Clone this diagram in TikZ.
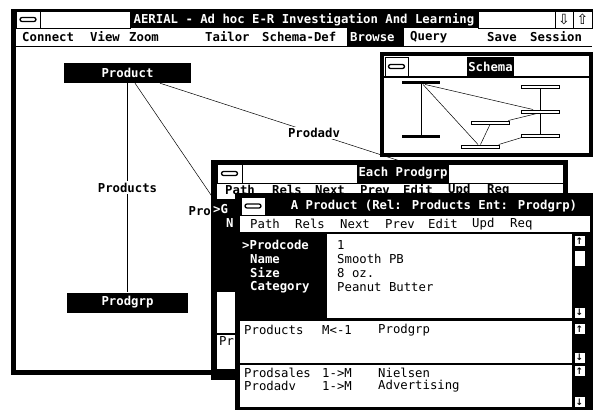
\documentclass[tikz,border=0pt]{standalone}
\usepackage{fontspec}
\setmainfont{DejaVu Sans Mono}
\newfontfamily\symfont{DejaVu Sans}
\begin{document}
\begin{tikzpicture}[
    x=1pt,y=-1pt,
    font=\fontsize{12.3}{13}\selectfont,
    ent/.style={fill=black,text=white,font=\fontsize{12.3}{13}\selectfont\bfseries,inner sep=0,minimum height=20},
    lbl/.style={fill=white,inner sep=1.5pt,font=\fontsize{12.3}{13}\selectfont\bfseries},
    mnu/.style={anchor=west,inner sep=0,font=\fontsize{12.3}{13}\selectfont\bfseries},
    ttl/.style={text=white,inner sep=0,font=\fontsize{12.3}{13}\selectfont\bfseries},
    fld/.style={anchor=west,text=white,inner sep=0,font=\fontsize{12.3}{13}\selectfont\bfseries},
    val/.style={anchor=west,inner sep=0},
    knob/.style={draw=black,line width=1.3pt,fill=white,rounded corners=2pt,minimum width=16,minimum height=4,inner sep=0},
    mini/.style={draw=black,fill=white,line width=0.5pt,inner sep=0,minimum width=38,minimum height=3.5},
    minib/.style={fill=black,inner sep=0,minimum width=38,minimum height=3.5},
    arr/.style={draw=black,fill=white,inner sep=0,minimum width=11,minimum height=11,font=\symfont\fontsize{9}{9}\selectfont\bfseries},
    rel/.style={line width=0.5pt}
  ]
  \useasboundingbox[fill=white] (0,0) rectangle (595,410);

  % main window
  \fill (11,9) rectangle (593,11);
  \fill (11,9) rectangle (16,375);
  \fill (11,370) rectangle (240,375);
  \draw[fill=white] (16,11) rectangle (40,28);
  \node[knob] (mainknob) at (28,19.5) {};
  \draw (40,11) rectangle (130,28);
  \fill (130,11) rectangle (478,28);
  \node[ttl] (maintitle) at (304,19.5) {AERIAL - Ad hoc E-R Investigation And Learning};
  \draw (478,11) rectangle (555,28);
  \draw (555,11) rectangle (573,28);
  \draw (573,11) rectangle (592,28);
  \node[inner sep=0,font=\symfont\fontsize{14}{14}\selectfont] (down) at (564,19.5) {⇩};
  \node[inner sep=0,font=\symfont\fontsize{14}{14}\selectfont] (up) at (582.5,19.5) {⇧};
  \draw (16,46) -- (592,46);
  \fill (347,28) rectangle (404,46);
  \node[mnu] (connect) at (22,37) {Connect};
  \node[mnu] (view) at (90,37) {View};
  \node[mnu] (zoom) at (129,37) {Zoom};
  \node[mnu] (tailor) at (205,37) {Tailor};
  \node[mnu] (schemadef) at (262,37) {Schema-Def};
  \node[mnu,text=white] (browse) at (350,37) {Browse};
  \node[mnu] (query) at (410,37) {Query};
  \node[mnu] (save) at (487,37) {Save};
  \node[mnu] (session) at (530,37) {Session};

  % entities
  \node[ent,minimum width=127] (product) at (127.5,73) {Product};
  \node[ent,minimum width=121] (prodgrp) at (127.5,302.5) {Prodgrp};
  \coordinate (nielsen) at (309,339);
  \coordinate (advert) at (468,183);

  % relationships
  \draw[rel] (product.south) -- (prodgrp.north) node[lbl,midway] (products) {Products};
  \draw[rel] ([xshift=7.5]product.south) -- (nielsen) node[lbl,midway] (prodsales) {Prodsales};
  \draw[rel] ([xshift=32.5]product.south) -- (advert) node[lbl,midway] (prodadv) {Prodadv};

  % schema window
  \fill (380,52) rectangle (593,157);
  \fill[white] (384,56) rectangle (589,153);
  \draw[fill=white] (385,57) rectangle (408,76);
  \node[knob] (schemaknob) at (396.5,66.5) {};
  \fill (467,57) rectangle (514,76);
  \node[ttl] (schematitle) at (490.5,66.5) {Schema};
  \fill (384,76) rectangle (589,78);
  \node[minib] (sa) at (421,82.5) {};
  \node[minib] (sb) at (421,136.5) {};
  \node[mini] (sc) at (540,86.5) {};
  \node[mini] (sd) at (540,111.5) {};
  \node[mini] (se) at (490,122.5) {};
  \node[mini] (sf) at (540,135.5) {};
  \node[mini] (sg) at (480.5,146.5) {};
  \draw[rel] (sa) -- (sb);
  \draw[rel] (sc) -- (sd);
  \draw[rel] (sd) -- (sf);
  \draw[rel] ([xshift=4]sa.south) -- ([xshift=-7]sd.north);
  \draw[rel] ([xshift=2]sa.south) -- ([xshift=-2.5]sg.north);
  \draw[rel] ([xshift=-1]se.north east) -- ([xshift=-3]sd.south);
  \draw[rel] (sg.north) -- (se.south);
  \draw[rel] ([xshift=-1]sg.north east) -- ([xshift=1]sf.south west);

  % each prodgrp window
  \fill (211,160) rectangle (568,380);
  \draw[fill=white] (217,164) rectangle (242,183);
  \node[knob] (eachknob) at (229.5,173.5) {};
  \draw[fill=white] (242,164) rectangle (563,183);
  \fill (357,164) rectangle (449,183);
  \node[ttl] (eachtitle) at (403,173.5) {Each Prodgrp};
  \fill[white] (217,184) rectangle (563,199);
  \node[mnu] (epath) at (225,190) {Path};
  \node[mnu] (erels) at (272,190) {Rels};
  \node[mnu] (enext) at (315,190) {Next};
  \node[mnu] (eprev) at (360,190) {Prev};
  \node[mnu] (eedit) at (403,190) {Edit};
  \node[mnu] (eupd) at (448,190) {Upd};
  \node[mnu] (ereq) at (487,190) {Req};
  \node[fld] (egrp) at (213,209) {>G};
  \node[fld] (ename) at (226,223) {N};
  \fill[white] (217,292) rectangle (235,333);
  \fill[white] (217,335) rectangle (235,369);
  \node[val] (epr) at (219,341) {Pr};

  % a product window
  \fill (235,193) rectangle (593,410);
  \draw[fill=white] (241,197) rectangle (265,215);
  \node[knob] (prodknob) at (253,206) {};
  \node[ttl] (prodtitle) at (434,206) {A Product (Rel: Products Ent: Prodgrp)};
  \fill[white] (240,216) rectangle (590,232);
  \node[val] (path) at (250,224) {Path};
  \node[val] (rels) at (295,224) {Rels};
  \node[val] (next) at (340,224) {Next};
  \node[val] (prev) at (385,224) {Prev};
  \node[val] (edit) at (428,224) {Edit};
  \node[val] (upd) at (472,224) {Upd};
  \node[val] (req) at (510,224) {Req};
  % fields
  \fill[white] (327,234) rectangle (572,318);
  \node[fld] (fcode) at (242,245) {>Prodcode};
  \node[fld] (fname) at (250,259) {Name};
  \node[fld] (fsize) at (250,273) {Size};
  \node[fld] (fcat) at (250,287) {Category};
  \node[val] (vcode) at (337,245) {1};
  \node[val] (vname) at (337,259) {Smooth PB};
  \node[val] (vsize) at (337,273) {8 oz.};
  \node[val] (vcat) at (337,287) {Peanut Butter};
  \node[arr] (fup) at (579.5,241) {↑};
  \draw[fill=white] (574,250) rectangle (585,266);
  \node[arr] (fdown) at (579.5,312.5) {↓};
  % relations
  \fill[white] (240,321) rectangle (572,363);
  \node[val] (r1a) at (244,330) {Products};
  \node[val] (r1b) at (322,330) {M<-1};
  \node[val] (r1c) at (378,330) {Prodgrp};
  \node[arr] (r1up) at (579.5,329) {↑};
  \node[arr] (r1down) at (579.5,357.5) {↓};
  \fill[white] (240,365) rectangle (572,407);
  \node[val] (r2a) at (244,373) {Prodsales};
  \node[val] (r2b) at (322,373) {1->M};
  \node[val] (r2c) at (378,373) {Nielsen};
  \node[val] (r3a) at (244,386) {Prodadv};
  \node[val] (r3b) at (322,386) {1->M};
  \node[val] (r3c) at (378,386) {Advertising};
  \node[arr] (r2up) at (579.5,371) {↑};
  \node[arr] (r2down) at (579.5,402) {↓};
\end{tikzpicture}
\end{document}
